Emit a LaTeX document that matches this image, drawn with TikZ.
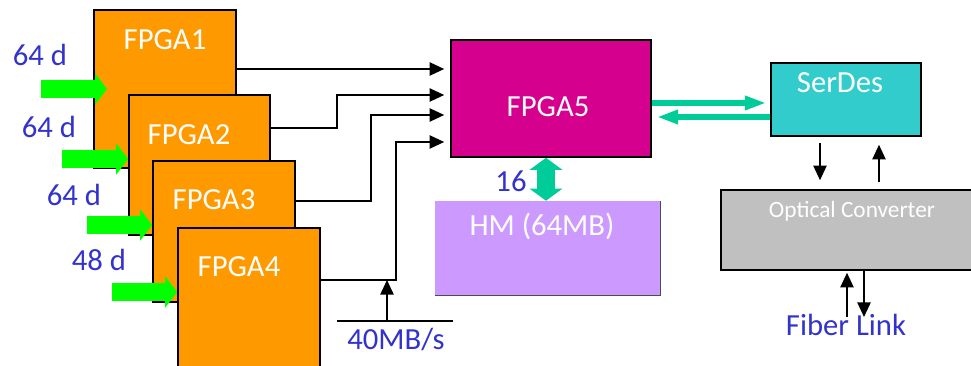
\documentclass[tikz,border=0pt]{standalone}
\usepackage{fontspec}
\setmainfont{Carlito}
\usetikzlibrary{arrows.meta,fit}
\definecolor{orangeb}{HTML}{FF9900}
\definecolor{magb}{HTML}{D6008F}
\definecolor{lavb}{HTML}{CC99FF}
\definecolor{tealb}{HTML}{33CCCC}
\definecolor{grayb}{HTML}{C0C0C0}
\definecolor{limeg}{HTML}{00FF00}
\definecolor{teala}{HTML}{00CC99}
\definecolor{bluet}{HTML}{3333CC}
\tikzset{
  box/.style={draw=black, line width=1.2pt, inner sep=0pt},
  big/.style={font=\fontsize{23}{27}\selectfont, inner sep=0pt},
  wt/.style={big, text=white},
  bl/.style={big, text=bluet},
  arr/.style={line width=1.2pt, -{Triangle[length=11pt,width=10pt]}},
  garr/.style={draw=limeg, line width=13.5pt, -{Triangle[length=9pt,width=23pt]}},
  tarr/.style={draw=teala, line width=5pt, -{Triangle[length=16pt,width=10pt]}},
  darr/.style={draw=teala, line width=13.5pt, {Triangle[length=9pt,width=24pt]}-{Triangle[length=9pt,width=24pt]}},
}
\begin{document}
\begin{tikzpicture}[x=0.75pt,y=-0.75pt]
\useasboundingbox (0,0) rectangle (971,366);

% FPGA stack
\node[box, fill=orangeb, fit={(94,10)(236,168)}] (f1) {};
\node[wt] (t1) at (165,40) {FPGA1};
\coordinate (g1s) at (41,89); \coordinate (g1e) at (107,89);
\draw[garr] (g1s) -- (g1e);

\node[box, fill=orangeb, fit={(129,95)(270,235)}] (f2) {};
\node[wt] (t2) at (189,135) {FPGA2};
\coordinate (g2s) at (62,159);
\draw[garr] (g2s) -- (f2.west |- g2s);

\node[box, fill=orangeb, fit={(153,161)(295,302)}] (f3) {};
\node[wt] (t3) at (214,200) {FPGA3};
\coordinate (g3s) at (87,225);
\draw[garr] (g3s) -- (f3.west |- g3s);

\node[box, fill=orangeb, fit={(178,228)(320,375)}] (f4) {};
\node[wt] (t4) at (239,267) {FPGA4};
\coordinate (g4s) at (112,292);
\draw[garr] (g4s) -- (f4.west |- g4s);

\node[bl] (l1) at (40,55) {64 d};
\node[bl] (l2) at (49,127) {64 d};
\node[bl] (l3) at (74,195) {64 d};
\node[bl] (l4) at (99,260) {48 d};

% FPGA5
\node[box, fill=magb, fit={(451,40)(651,157)}] (f5) {};
\node[wt] (t5) at (548,107) {FPGA5};

% lines to FPGA5
\coordinate (y1) at (0,69); \coordinate (y2) at (0,95);
\coordinate (y3) at (0,115); \coordinate (y4) at (0,142);
\coordinate (o2) at (0,128); \coordinate (o3) at (0,201); \coordinate (o4) at (0,280);
\draw[arr, shorten >=4.5pt] (f1.east |- y1) -- (f5.west |- y1);
\draw[arr, shorten >=4.5pt] (f2.east |- o2) -- ++(66,0) |- (f5.west |- y2);
\draw[arr, shorten >=4.5pt] (f3.east |- o3) -- ++(75,0) |- (f5.west |- y3);
\draw[arr, shorten >=4.5pt] (f4.east |- o4) -- ++(75,0) |- (f5.west |- y4);

% 40MB/s
\coordinate (m1) at (337,321); \coordinate (m2) at (453,321); \coordinate (mb) at (387,321);
\draw[line width=1.2pt] (m1) -- (m2);
\draw[arr] (mb) -- (mb |- o4);
\node[bl] (l5) at (396,340) {40MB/s};

% HM
\node[fill=lavb, inner sep=0pt, fit={(435,201)(660,295)}] (hm) {};
\draw[black!70, line width=0.9pt] (hm.north east) -- (hm.south east) -- (hm.south west);
\node[wt] (t6) at (542,226) {HM (64MB)};
\coordinate (dx) at (546,0);
\draw[darr] (f5.south -| dx) -- (hm.north -| dx);
\node[bl] (l6) at (511,181) {16};

% SerDes
\node[box, fill=tealb, fit={(771,63)(921,136)}] (sd) {};
\node[wt] (t7) at (840,83) {SerDes};
\coordinate (ty1) at (0,103); \coordinate (ty2) at (0,117);
\draw[tarr, shorten >=3pt] (f5.east |- ty1) -- (sd.west |- ty1);
\draw[tarr, shorten >=3.75pt] (sd.west |- ty2) -- (f5.east |- ty2);

% Optical converter
\node[box, fill=grayb, fit={(721,190)(978,270)}] (oc) {};
\node[text=white, font=\fontsize{17.5}{20}\selectfont, inner sep=0pt] (t8) at (852,211) {Optical Converter};
\coordinate (x1) at (820,0); \coordinate (x2) at (879,0);
\draw[arr, shorten <=4.5pt, shorten >=6.75pt] (sd.south -| x1) -- (oc.north -| x1);
\draw[arr, shorten <=5.25pt, shorten >=6pt] (oc.north -| x2) -- (sd.south -| x2);

% Fiber link
\node[bl] (l7) at (846,325) {Fiber Link};
\coordinate (fa) at (847,317); \coordinate (fb) at (864,317);
\draw[arr, shorten >=1.5pt] (fa) -- (oc.south -| fa);
\draw[arr] (oc.south -| fb) -- (fb);
\end{tikzpicture}
\end{document}
